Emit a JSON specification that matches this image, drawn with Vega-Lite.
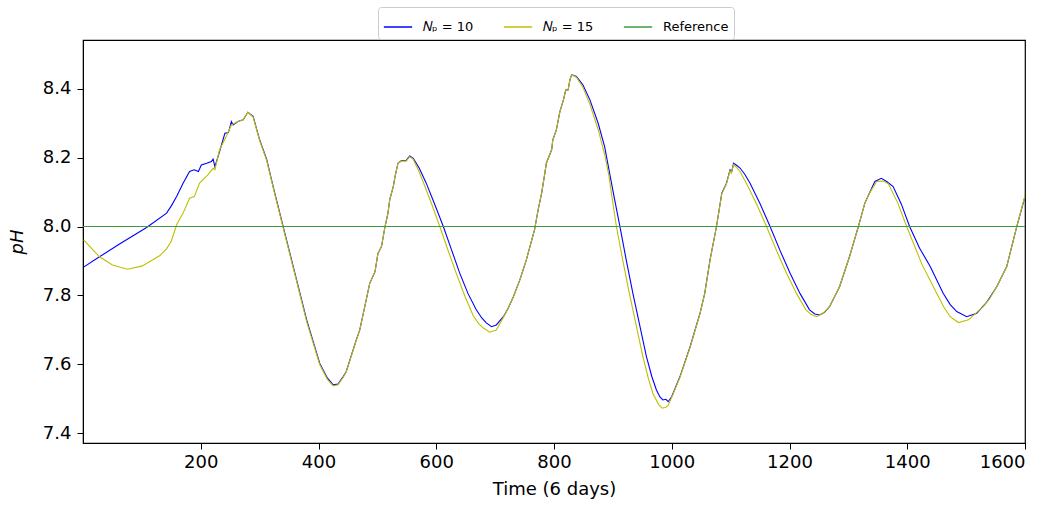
{
  "$schema": "https://vega.github.io/schema/vega-lite/v6.json",
  "width": 942,
  "height": 403,
  "autosize": {"type": "none"},
  "padding": {"left": 83, "top": 40, "right": 29, "bottom": 63},
  "background": "white",
  "config": {
    "font": "DejaVu Sans",
    "view": {"stroke": "black", "strokeWidth": 1.2},
    "axis": {
      "domainColor": "black",
      "tickColor": "black",
      "labelColor": "black",
      "titleColor": "black",
      "grid": false,
      "labelFontSize": 18,
      "titleFontSize": 18,
      "titleFontWeight": "normal",
      "tickSize": 6,
      "tickWidth": 1
    }
  },
  "datasets": {
    "ph": [
      {"t": 1, "pH": 7.882, "series": "𝑁ₚ = 10"},
      {"t": 28, "pH": 7.912, "series": "𝑁ₚ = 10"},
      {"t": 60, "pH": 7.947, "series": "𝑁ₚ = 10"},
      {"t": 108, "pH": 7.997, "series": "𝑁ₚ = 10"},
      {"t": 142, "pH": 8.039, "series": "𝑁ₚ = 10"},
      {"t": 150, "pH": 8.06, "series": "𝑁ₚ = 10"},
      {"t": 159, "pH": 8.087, "series": "𝑁ₚ = 10"},
      {"t": 170, "pH": 8.126, "series": "𝑁ₚ = 10"},
      {"t": 181, "pH": 8.16, "series": "𝑁ₚ = 10"},
      {"t": 189, "pH": 8.165, "series": "𝑁ₚ = 10"},
      {"t": 196, "pH": 8.16, "series": "𝑁ₚ = 10"},
      {"t": 201, "pH": 8.179, "series": "𝑁ₚ = 10"},
      {"t": 210, "pH": 8.184, "series": "𝑁ₚ = 10"},
      {"t": 218, "pH": 8.189, "series": "𝑁ₚ = 10"},
      {"t": 221, "pH": 8.196, "series": "𝑁ₚ = 10"},
      {"t": 224, "pH": 8.174, "series": "𝑁ₚ = 10"},
      {"t": 232, "pH": 8.218, "series": "𝑁ₚ = 10"},
      {"t": 241, "pH": 8.271, "series": "𝑁ₚ = 10"},
      {"t": 247, "pH": 8.273, "series": "𝑁ₚ = 10"},
      {"t": 252, "pH": 8.305, "series": "𝑁ₚ = 10"},
      {"t": 255, "pH": 8.295, "series": "𝑁ₚ = 10"},
      {"t": 263, "pH": 8.305, "series": "𝑁ₚ = 10"},
      {"t": 272, "pH": 8.31, "series": "𝑁ₚ = 10"},
      {"t": 280, "pH": 8.332, "series": "𝑁ₚ = 10"},
      {"t": 289, "pH": 8.32, "series": "𝑁ₚ = 10"},
      {"t": 300, "pH": 8.252, "series": "𝑁ₚ = 10"},
      {"t": 312, "pH": 8.195, "series": "𝑁ₚ = 10"},
      {"t": 323, "pH": 8.116, "series": "𝑁ₚ = 10"},
      {"t": 340, "pH": 8.0, "series": "𝑁ₚ = 10"},
      {"t": 360, "pH": 7.864, "series": "𝑁ₚ = 10"},
      {"t": 380, "pH": 7.728, "series": "𝑁ₚ = 10"},
      {"t": 402, "pH": 7.603, "series": "𝑁ₚ = 10"},
      {"t": 415, "pH": 7.56, "series": "𝑁ₚ = 10"},
      {"t": 425, "pH": 7.54, "series": "𝑁ₚ = 10"},
      {"t": 433, "pH": 7.542, "series": "𝑁ₚ = 10"},
      {"t": 442, "pH": 7.564, "series": "𝑁ₚ = 10"},
      {"t": 447, "pH": 7.578, "series": "𝑁ₚ = 10"},
      {"t": 464, "pH": 7.67, "series": "𝑁ₚ = 10"},
      {"t": 470, "pH": 7.699, "series": "𝑁ₚ = 10"},
      {"t": 487, "pH": 7.835, "series": "𝑁ₚ = 10"},
      {"t": 496, "pH": 7.869, "series": "𝑁ₚ = 10"},
      {"t": 501, "pH": 7.922, "series": "𝑁ₚ = 10"},
      {"t": 507, "pH": 7.942, "series": "𝑁ₚ = 10"},
      {"t": 513, "pH": 8.0, "series": "𝑁ₚ = 10"},
      {"t": 518, "pH": 8.039, "series": "𝑁ₚ = 10"},
      {"t": 521, "pH": 8.078, "series": "𝑁ₚ = 10"},
      {"t": 527, "pH": 8.116, "series": "𝑁ₚ = 10"},
      {"t": 530, "pH": 8.145, "series": "𝑁ₚ = 10"},
      {"t": 535, "pH": 8.184, "series": "𝑁ₚ = 10"},
      {"t": 541, "pH": 8.192, "series": "𝑁ₚ = 10"},
      {"t": 549, "pH": 8.192, "series": "𝑁ₚ = 10"},
      {"t": 555, "pH": 8.205, "series": "𝑁ₚ = 10"},
      {"t": 561, "pH": 8.198, "series": "𝑁ₚ = 10"},
      {"t": 571, "pH": 8.17, "series": "𝑁ₚ = 10"},
      {"t": 583, "pH": 8.126, "series": "𝑁ₚ = 10"},
      {"t": 597, "pH": 8.066, "series": "𝑁ₚ = 10"},
      {"t": 612, "pH": 8.0, "series": "𝑁ₚ = 10"},
      {"t": 626, "pH": 7.932, "series": "𝑁ₚ = 10"},
      {"t": 640, "pH": 7.864, "series": "𝑁ₚ = 10"},
      {"t": 654, "pH": 7.805, "series": "𝑁ₚ = 10"},
      {"t": 668, "pH": 7.758, "series": "𝑁ₚ = 10"},
      {"t": 677, "pH": 7.735, "series": "𝑁ₚ = 10"},
      {"t": 685, "pH": 7.72, "series": "𝑁ₚ = 10"},
      {"t": 694, "pH": 7.709, "series": "𝑁ₚ = 10"},
      {"t": 702, "pH": 7.714, "series": "𝑁ₚ = 10"},
      {"t": 714, "pH": 7.738, "series": "𝑁ₚ = 10"},
      {"t": 722, "pH": 7.762, "series": "𝑁ₚ = 10"},
      {"t": 731, "pH": 7.796, "series": "𝑁ₚ = 10"},
      {"t": 742, "pH": 7.845, "series": "𝑁ₚ = 10"},
      {"t": 753, "pH": 7.903, "series": "𝑁ₚ = 10"},
      {"t": 767, "pH": 7.991, "series": "𝑁ₚ = 10"},
      {"t": 773, "pH": 8.048, "series": "𝑁ₚ = 10"},
      {"t": 779, "pH": 8.097, "series": "𝑁ₚ = 10"},
      {"t": 784, "pH": 8.15, "series": "𝑁ₚ = 10"},
      {"t": 787, "pH": 8.184, "series": "𝑁ₚ = 10"},
      {"t": 796, "pH": 8.223, "series": "𝑁ₚ = 10"},
      {"t": 798, "pH": 8.252, "series": "𝑁ₚ = 10"},
      {"t": 804, "pH": 8.281, "series": "𝑁ₚ = 10"},
      {"t": 810, "pH": 8.334, "series": "𝑁ₚ = 10"},
      {"t": 816, "pH": 8.368, "series": "𝑁ₚ = 10"},
      {"t": 820, "pH": 8.397, "series": "𝑁ₚ = 10"},
      {"t": 824, "pH": 8.397, "series": "𝑁ₚ = 10"},
      {"t": 827, "pH": 8.426, "series": "𝑁ₚ = 10"},
      {"t": 830, "pH": 8.441, "series": "𝑁ₚ = 10"},
      {"t": 838, "pH": 8.436, "series": "𝑁ₚ = 10"},
      {"t": 849, "pH": 8.412, "series": "𝑁ₚ = 10"},
      {"t": 861, "pH": 8.368, "series": "𝑁ₚ = 10"},
      {"t": 875, "pH": 8.3, "series": "𝑁ₚ = 10"},
      {"t": 886, "pH": 8.232, "series": "𝑁ₚ = 10"},
      {"t": 895, "pH": 8.15, "series": "𝑁ₚ = 10"},
      {"t": 903, "pH": 8.078, "series": "𝑁ₚ = 10"},
      {"t": 912, "pH": 8.0, "series": "𝑁ₚ = 10"},
      {"t": 923, "pH": 7.9, "series": "𝑁ₚ = 10"},
      {"t": 934, "pH": 7.806, "series": "𝑁ₚ = 10"},
      {"t": 946, "pH": 7.71, "series": "𝑁ₚ = 10"},
      {"t": 957, "pH": 7.622, "series": "𝑁ₚ = 10"},
      {"t": 966, "pH": 7.565, "series": "𝑁ₚ = 10"},
      {"t": 974, "pH": 7.525, "series": "𝑁ₚ = 10"},
      {"t": 980, "pH": 7.505, "series": "𝑁ₚ = 10"},
      {"t": 985, "pH": 7.496, "series": "𝑁ₚ = 10"},
      {"t": 990, "pH": 7.498, "series": "𝑁ₚ = 10"},
      {"t": 994, "pH": 7.491, "series": "𝑁ₚ = 10"},
      {"t": 1000, "pH": 7.506, "series": "𝑁ₚ = 10"},
      {"t": 1014, "pH": 7.564, "series": "𝑁ₚ = 10"},
      {"t": 1031, "pH": 7.65, "series": "𝑁ₚ = 10"},
      {"t": 1048, "pH": 7.748, "series": "𝑁ₚ = 10"},
      {"t": 1056, "pH": 7.806, "series": "𝑁ₚ = 10"},
      {"t": 1065, "pH": 7.903, "series": "𝑁ₚ = 10"},
      {"t": 1076, "pH": 8.0, "series": "𝑁ₚ = 10"},
      {"t": 1085, "pH": 8.097, "series": "𝑁ₚ = 10"},
      {"t": 1093, "pH": 8.126, "series": "𝑁ₚ = 10"},
      {"t": 1099, "pH": 8.165, "series": "𝑁ₚ = 10"},
      {"t": 1102, "pH": 8.16, "series": "𝑁ₚ = 10"},
      {"t": 1105, "pH": 8.184, "series": "𝑁ₚ = 10"},
      {"t": 1110, "pH": 8.178, "series": "𝑁ₚ = 10"},
      {"t": 1116, "pH": 8.17, "series": "𝑁ₚ = 10"},
      {"t": 1124, "pH": 8.152, "series": "𝑁ₚ = 10"},
      {"t": 1133, "pH": 8.126, "series": "𝑁ₚ = 10"},
      {"t": 1150, "pH": 8.066, "series": "𝑁ₚ = 10"},
      {"t": 1167, "pH": 8.0, "series": "𝑁ₚ = 10"},
      {"t": 1184, "pH": 7.93, "series": "𝑁ₚ = 10"},
      {"t": 1201, "pH": 7.864, "series": "𝑁ₚ = 10"},
      {"t": 1218, "pH": 7.805, "series": "𝑁ₚ = 10"},
      {"t": 1234, "pH": 7.758, "series": "𝑁ₚ = 10"},
      {"t": 1243, "pH": 7.746, "series": "𝑁ₚ = 10"},
      {"t": 1251, "pH": 7.743, "series": "𝑁ₚ = 10"},
      {"t": 1259, "pH": 7.75, "series": "𝑁ₚ = 10"},
      {"t": 1268, "pH": 7.767, "series": "𝑁ₚ = 10"},
      {"t": 1285, "pH": 7.825, "series": "𝑁ₚ = 10"},
      {"t": 1302, "pH": 7.913, "series": "𝑁ₚ = 10"},
      {"t": 1317, "pH": 8.0, "series": "𝑁ₚ = 10"},
      {"t": 1328, "pH": 8.068, "series": "𝑁ₚ = 10"},
      {"t": 1337, "pH": 8.102, "series": "𝑁ₚ = 10"},
      {"t": 1345, "pH": 8.131, "series": "𝑁ₚ = 10"},
      {"t": 1356, "pH": 8.14, "series": "𝑁ₚ = 10"},
      {"t": 1365, "pH": 8.131, "series": "𝑁ₚ = 10"},
      {"t": 1376, "pH": 8.116, "series": "𝑁ₚ = 10"},
      {"t": 1390, "pH": 8.065, "series": "𝑁ₚ = 10"},
      {"t": 1404, "pH": 8.0, "series": "𝑁ₚ = 10"},
      {"t": 1421, "pH": 7.937, "series": "𝑁ₚ = 10"},
      {"t": 1439, "pH": 7.884, "series": "𝑁ₚ = 10"},
      {"t": 1461, "pH": 7.806, "series": "𝑁ₚ = 10"},
      {"t": 1473, "pH": 7.773, "series": "𝑁ₚ = 10"},
      {"t": 1484, "pH": 7.753, "series": "𝑁ₚ = 10"},
      {"t": 1501, "pH": 7.738, "series": "𝑁ₚ = 10"},
      {"t": 1518, "pH": 7.748, "series": "𝑁ₚ = 10"},
      {"t": 1535, "pH": 7.78, "series": "𝑁ₚ = 10"},
      {"t": 1552, "pH": 7.825, "series": "𝑁ₚ = 10"},
      {"t": 1569, "pH": 7.884, "series": "𝑁ₚ = 10"},
      {"t": 1586, "pH": 8.0, "series": "𝑁ₚ = 10"},
      {"t": 1600, "pH": 8.087, "series": "𝑁ₚ = 10"},

      {"t": 1, "pH": 7.961, "series": "𝑁ₚ = 15"},
      {"t": 28, "pH": 7.912, "series": "𝑁ₚ = 15"},
      {"t": 50, "pH": 7.888, "series": "𝑁ₚ = 15"},
      {"t": 75, "pH": 7.876, "series": "𝑁ₚ = 15"},
      {"t": 100, "pH": 7.885, "series": "𝑁ₚ = 15"},
      {"t": 130, "pH": 7.915, "series": "𝑁ₚ = 15"},
      {"t": 142, "pH": 7.935, "series": "𝑁ₚ = 15"},
      {"t": 150, "pH": 7.958, "series": "𝑁ₚ = 15"},
      {"t": 159, "pH": 8.005, "series": "𝑁ₚ = 15"},
      {"t": 170, "pH": 8.039, "series": "𝑁ₚ = 15"},
      {"t": 181, "pH": 8.082, "series": "𝑁ₚ = 15"},
      {"t": 189, "pH": 8.087, "series": "𝑁ₚ = 15"},
      {"t": 198, "pH": 8.126, "series": "𝑁ₚ = 15"},
      {"t": 212, "pH": 8.15, "series": "𝑁ₚ = 15"},
      {"t": 221, "pH": 8.169, "series": "𝑁ₚ = 15"},
      {"t": 224, "pH": 8.165, "series": "𝑁ₚ = 15"},
      {"t": 232, "pH": 8.223, "series": "𝑁ₚ = 15"},
      {"t": 243, "pH": 8.261, "series": "𝑁ₚ = 15"},
      {"t": 252, "pH": 8.295, "series": "𝑁ₚ = 15"},
      {"t": 263, "pH": 8.305, "series": "𝑁ₚ = 15"},
      {"t": 272, "pH": 8.31, "series": "𝑁ₚ = 15"},
      {"t": 280, "pH": 8.332, "series": "𝑁ₚ = 15"},
      {"t": 289, "pH": 8.318, "series": "𝑁ₚ = 15"},
      {"t": 300, "pH": 8.25, "series": "𝑁ₚ = 15"},
      {"t": 312, "pH": 8.192, "series": "𝑁ₚ = 15"},
      {"t": 323, "pH": 8.113, "series": "𝑁ₚ = 15"},
      {"t": 340, "pH": 7.996, "series": "𝑁ₚ = 15"},
      {"t": 360, "pH": 7.86, "series": "𝑁ₚ = 15"},
      {"t": 380, "pH": 7.723, "series": "𝑁ₚ = 15"},
      {"t": 402, "pH": 7.599, "series": "𝑁ₚ = 15"},
      {"t": 415, "pH": 7.556, "series": "𝑁ₚ = 15"},
      {"t": 425, "pH": 7.537, "series": "𝑁ₚ = 15"},
      {"t": 433, "pH": 7.54, "series": "𝑁ₚ = 15"},
      {"t": 442, "pH": 7.562, "series": "𝑁ₚ = 15"},
      {"t": 447, "pH": 7.577, "series": "𝑁ₚ = 15"},
      {"t": 464, "pH": 7.668, "series": "𝑁ₚ = 15"},
      {"t": 470, "pH": 7.698, "series": "𝑁ₚ = 15"},
      {"t": 487, "pH": 7.835, "series": "𝑁ₚ = 15"},
      {"t": 496, "pH": 7.869, "series": "𝑁ₚ = 15"},
      {"t": 501, "pH": 7.922, "series": "𝑁ₚ = 15"},
      {"t": 507, "pH": 7.942, "series": "𝑁ₚ = 15"},
      {"t": 513, "pH": 8.0, "series": "𝑁ₚ = 15"},
      {"t": 518, "pH": 8.039, "series": "𝑁ₚ = 15"},
      {"t": 521, "pH": 8.078, "series": "𝑁ₚ = 15"},
      {"t": 527, "pH": 8.116, "series": "𝑁ₚ = 15"},
      {"t": 530, "pH": 8.145, "series": "𝑁ₚ = 15"},
      {"t": 535, "pH": 8.184, "series": "𝑁ₚ = 15"},
      {"t": 541, "pH": 8.19, "series": "𝑁ₚ = 15"},
      {"t": 549, "pH": 8.19, "series": "𝑁ₚ = 15"},
      {"t": 555, "pH": 8.203, "series": "𝑁ₚ = 15"},
      {"t": 561, "pH": 8.195, "series": "𝑁ₚ = 15"},
      {"t": 570, "pH": 8.163, "series": "𝑁ₚ = 15"},
      {"t": 580, "pH": 8.12, "series": "𝑁ₚ = 15"},
      {"t": 593, "pH": 8.062, "series": "𝑁ₚ = 15"},
      {"t": 606, "pH": 8.0, "series": "𝑁ₚ = 15"},
      {"t": 620, "pH": 7.931, "series": "𝑁ₚ = 15"},
      {"t": 634, "pH": 7.864, "series": "𝑁ₚ = 15"},
      {"t": 649, "pH": 7.796, "series": "𝑁ₚ = 15"},
      {"t": 663, "pH": 7.74, "series": "𝑁ₚ = 15"},
      {"t": 672, "pH": 7.718, "series": "𝑁ₚ = 15"},
      {"t": 680, "pH": 7.705, "series": "𝑁ₚ = 15"},
      {"t": 691, "pH": 7.693, "series": "𝑁ₚ = 15"},
      {"t": 702, "pH": 7.699, "series": "𝑁ₚ = 15"},
      {"t": 714, "pH": 7.736, "series": "𝑁ₚ = 15"},
      {"t": 722, "pH": 7.761, "series": "𝑁ₚ = 15"},
      {"t": 731, "pH": 7.796, "series": "𝑁ₚ = 15"},
      {"t": 742, "pH": 7.845, "series": "𝑁ₚ = 15"},
      {"t": 753, "pH": 7.903, "series": "𝑁ₚ = 15"},
      {"t": 767, "pH": 7.991, "series": "𝑁ₚ = 15"},
      {"t": 773, "pH": 8.048, "series": "𝑁ₚ = 15"},
      {"t": 779, "pH": 8.097, "series": "𝑁ₚ = 15"},
      {"t": 784, "pH": 8.15, "series": "𝑁ₚ = 15"},
      {"t": 787, "pH": 8.184, "series": "𝑁ₚ = 15"},
      {"t": 796, "pH": 8.223, "series": "𝑁ₚ = 15"},
      {"t": 798, "pH": 8.252, "series": "𝑁ₚ = 15"},
      {"t": 804, "pH": 8.281, "series": "𝑁ₚ = 15"},
      {"t": 810, "pH": 8.334, "series": "𝑁ₚ = 15"},
      {"t": 816, "pH": 8.368, "series": "𝑁ₚ = 15"},
      {"t": 820, "pH": 8.397, "series": "𝑁ₚ = 15"},
      {"t": 824, "pH": 8.397, "series": "𝑁ₚ = 15"},
      {"t": 827, "pH": 8.426, "series": "𝑁ₚ = 15"},
      {"t": 830, "pH": 8.441, "series": "𝑁ₚ = 15"},
      {"t": 838, "pH": 8.434, "series": "𝑁ₚ = 15"},
      {"t": 849, "pH": 8.405, "series": "𝑁ₚ = 15"},
      {"t": 861, "pH": 8.355, "series": "𝑁ₚ = 15"},
      {"t": 875, "pH": 8.282, "series": "𝑁ₚ = 15"},
      {"t": 886, "pH": 8.21, "series": "𝑁ₚ = 15"},
      {"t": 893, "pH": 8.15, "series": "𝑁ₚ = 15"},
      {"t": 899, "pH": 8.08, "series": "𝑁ₚ = 15"},
      {"t": 906, "pH": 8.0, "series": "𝑁ₚ = 15"},
      {"t": 917, "pH": 7.9, "series": "𝑁ₚ = 15"},
      {"t": 928, "pH": 7.806, "series": "𝑁ₚ = 15"},
      {"t": 940, "pH": 7.71, "series": "𝑁ₚ = 15"},
      {"t": 951, "pH": 7.622, "series": "𝑁ₚ = 15"},
      {"t": 960, "pH": 7.56, "series": "𝑁ₚ = 15"},
      {"t": 968, "pH": 7.515, "series": "𝑁ₚ = 15"},
      {"t": 978, "pH": 7.482, "series": "𝑁ₚ = 15"},
      {"t": 984, "pH": 7.472, "series": "𝑁ₚ = 15"},
      {"t": 990, "pH": 7.475, "series": "𝑁ₚ = 15"},
      {"t": 994, "pH": 7.481, "series": "𝑁ₚ = 15"},
      {"t": 1002, "pH": 7.512, "series": "𝑁ₚ = 15"},
      {"t": 1014, "pH": 7.562, "series": "𝑁ₚ = 15"},
      {"t": 1031, "pH": 7.648, "series": "𝑁ₚ = 15"},
      {"t": 1048, "pH": 7.747, "series": "𝑁ₚ = 15"},
      {"t": 1056, "pH": 7.805, "series": "𝑁ₚ = 15"},
      {"t": 1065, "pH": 7.902, "series": "𝑁ₚ = 15"},
      {"t": 1076, "pH": 8.0, "series": "𝑁ₚ = 15"},
      {"t": 1085, "pH": 8.095, "series": "𝑁ₚ = 15"},
      {"t": 1093, "pH": 8.124, "series": "𝑁ₚ = 15"},
      {"t": 1099, "pH": 8.163, "series": "𝑁ₚ = 15"},
      {"t": 1101, "pH": 8.155, "series": "𝑁ₚ = 15"},
      {"t": 1105, "pH": 8.18, "series": "𝑁ₚ = 15"},
      {"t": 1110, "pH": 8.172, "series": "𝑁ₚ = 15"},
      {"t": 1116, "pH": 8.16, "series": "𝑁ₚ = 15"},
      {"t": 1130, "pH": 8.115, "series": "𝑁ₚ = 15"},
      {"t": 1146, "pH": 8.058, "series": "𝑁ₚ = 15"},
      {"t": 1161, "pH": 8.0, "series": "𝑁ₚ = 15"},
      {"t": 1178, "pH": 7.93, "series": "𝑁ₚ = 15"},
      {"t": 1195, "pH": 7.864, "series": "𝑁ₚ = 15"},
      {"t": 1212, "pH": 7.805, "series": "𝑁ₚ = 15"},
      {"t": 1228, "pH": 7.758, "series": "𝑁ₚ = 15"},
      {"t": 1237, "pH": 7.744, "series": "𝑁ₚ = 15"},
      {"t": 1246, "pH": 7.738, "series": "𝑁ₚ = 15"},
      {"t": 1257, "pH": 7.748, "series": "𝑁ₚ = 15"},
      {"t": 1268, "pH": 7.767, "series": "𝑁ₚ = 15"},
      {"t": 1285, "pH": 7.825, "series": "𝑁ₚ = 15"},
      {"t": 1302, "pH": 7.913, "series": "𝑁ₚ = 15"},
      {"t": 1317, "pH": 8.0, "series": "𝑁ₚ = 15"},
      {"t": 1328, "pH": 8.068, "series": "𝑁ₚ = 15"},
      {"t": 1337, "pH": 8.1, "series": "𝑁ₚ = 15"},
      {"t": 1348, "pH": 8.131, "series": "𝑁ₚ = 15"},
      {"t": 1359, "pH": 8.132, "series": "𝑁ₚ = 15"},
      {"t": 1368, "pH": 8.124, "series": "𝑁ₚ = 15"},
      {"t": 1384, "pH": 8.068, "series": "𝑁ₚ = 15"},
      {"t": 1399, "pH": 8.0, "series": "𝑁ₚ = 15"},
      {"t": 1425, "pH": 7.89, "series": "𝑁ₚ = 15"},
      {"t": 1450, "pH": 7.806, "series": "𝑁ₚ = 15"},
      {"t": 1462, "pH": 7.766, "series": "𝑁ₚ = 15"},
      {"t": 1473, "pH": 7.738, "series": "𝑁ₚ = 15"},
      {"t": 1487, "pH": 7.721, "series": "𝑁ₚ = 15"},
      {"t": 1504, "pH": 7.729, "series": "𝑁ₚ = 15"},
      {"t": 1529, "pH": 7.767, "series": "𝑁ₚ = 15"},
      {"t": 1540, "pH": 7.79, "series": "𝑁ₚ = 15"},
      {"t": 1552, "pH": 7.825, "series": "𝑁ₚ = 15"},
      {"t": 1569, "pH": 7.884, "series": "𝑁ₚ = 15"},
      {"t": 1586, "pH": 8.0, "series": "𝑁ₚ = 15"},
      {"t": 1600, "pH": 8.09, "series": "𝑁ₚ = 15"},

      {"t": 0, "pH": 8.0, "series": "Reference"},
      {"t": 1600, "pH": 8.0, "series": "Reference"}
    ]
  },
  "data": {"name": "ph"},
  "mark": {"type": "line", "strokeWidth": 1.1, "clip": true},
  "encoding": {
    "x": {
      "field": "t",
      "type": "quantitative",
      "scale": {"domain": [0, 1600], "nice": false, "zero": false},
      "axis": {"values": [200, 400, 600, 800, 1000, 1200, 1400, 1600], "format": "d", "title": "Time (6 days)", "titlePadding": 9, "labelPadding": 4}
    },
    "y": {
      "field": "pH",
      "type": "quantitative",
      "scale": {"domain": [7.371, 8.542], "nice": false, "zero": false},
      "axis": {"values": [7.4, 7.6, 7.8, 8.0, 8.2, 8.4], "format": ".1f", "title": "pH", "titleFontStyle": "italic", "titlePadding": 16, "labelPadding": 6}
    },
    "color": {
      "field": "series",
      "type": "nominal",
      "scale": {"domain": ["𝑁ₚ = 10", "𝑁ₚ = 15", "Reference"], "range": ["#0000ff", "#bfbf00", "#3f9a3f"]},
      "legend": {
        "title": null,
        "orient": "none",
        "direction": "horizontal",
        "legendX": 295,
        "legendY": -33,
        "symbolType": "stroke",
        "symbolSize": 800,
        "symbolStrokeWidth": 1.5,
        "labelFontSize": 13,
        "labelOffset": 10,
        "columnPadding": 26,
        "padding": 5,
        "strokeColor": "#cccccc",
        "fillColor": "white",
        "cornerRadius": 3
      }
    },
    "order": {"field": "t", "type": "quantitative"}
  }
}
